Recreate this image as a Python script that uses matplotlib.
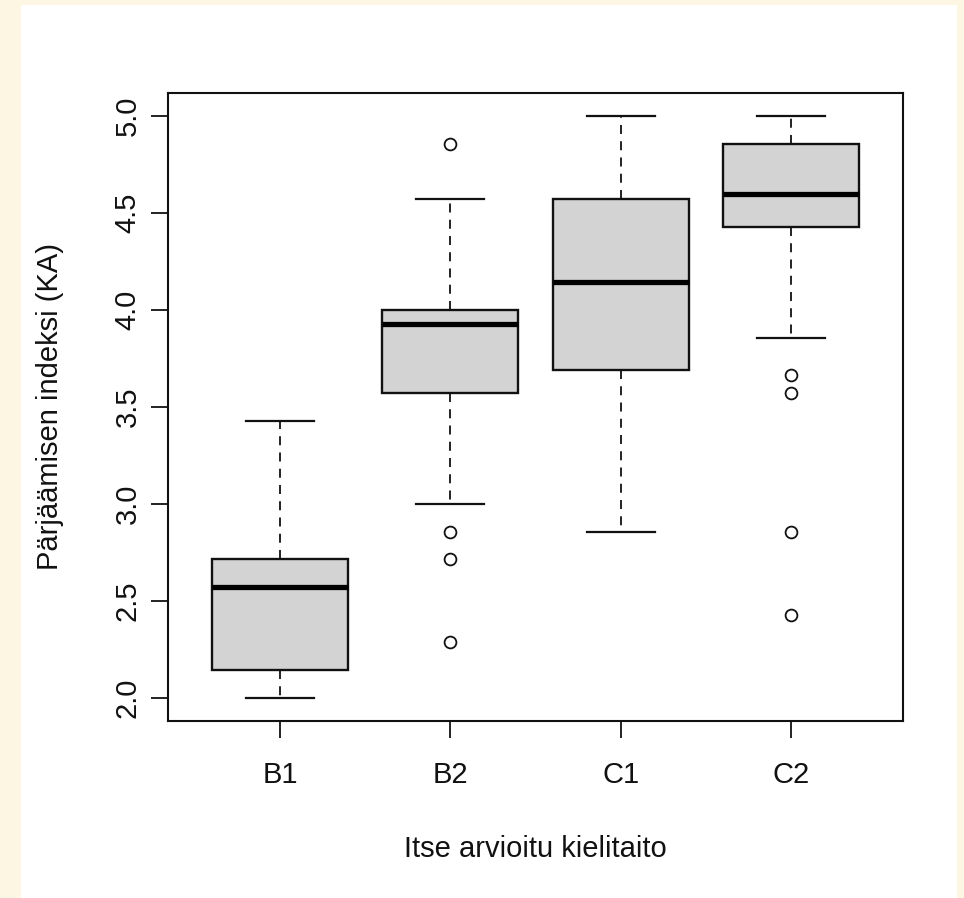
import matplotlib.pyplot as plt
from matplotlib.patches import Rectangle

# box statistics (R style boxplot)
groups = ['B1', 'B2', 'C1', 'C2']
whislo = [2.0, 3.0, 2.857, 3.857]
q1 = [2.143, 3.571, 3.69, 4.429]
med = [2.571, 3.929, 4.143, 4.6]
q3 = [2.714, 4.0, 4.571, 4.857]
whishi = [3.429, 4.571, 5.0, 5.0]
fliers = [[], [4.857, 2.857, 2.714, 2.286], [], [3.667, 3.571, 2.857, 2.429]]

y_ticks = [2.0, 2.5, 3.0, 3.5, 4.0, 4.5, 5.0]

plt.rcParams['font.family'] = ['Liberation Sans', 'DejaVu Sans']
FS = 21

W, H = 964, 898
fig = plt.figure(figsize=(W / 100, H / 100), dpi=100, facecolor='#fdf6e3')
# white drawing region inside the cream border
fig.patches.append(Rectangle((21 / W, 0), 936 / W, (H - 5) / H,
                             transform=fig.transFigure, facecolor='white',
                             edgecolor='none', zorder=-10))

ax = fig.add_axes([168 / W, (H - 721) / H, (903 - 168) / W, (721 - 93) / H])
ax.set_facecolor('white')

stats = []
for i, g in enumerate(groups):
    stats.append({'label': g, 'whislo': whislo[i], 'q1': q1[i], 'med': med[i],
                  'q3': q3[i], 'whishi': whishi[i], 'fliers': fliers[i]})

ax.bxp(stats, positions=range(1, len(groups) + 1), widths=0.8,
       patch_artist=True, showfliers=True,
       boxprops=dict(facecolor='#d3d3d3', edgecolor='#111111', linewidth=1.7),
       medianprops=dict(color='black', linewidth=3.8, solid_capstyle='butt'),
       whiskerprops=dict(color='#111111', linewidth=1.3, linestyle=(0, (5, 4))),
       capprops=dict(color='#111111', linewidth=1.6),
       capwidths=0.4,
       flierprops=dict(marker='o', markersize=8.5, markerfacecolor='none',
                       markeredgecolor='#111111', markeredgewidth=1.3))

n = len(groups)
ax.set_xlim(0.5 - 0.04 * n, n + 0.5 + 0.04 * n)
ax.set_ylim(2.0 - 0.04 * 3, 5.0 + 0.04 * 3)

ax.set_yticks(y_ticks)
ax.set_yticklabels([f'{v:.1f}' for v in y_ticks], rotation=90, va='center')
ax.set_xticks(range(1, n + 1))
ax.set_xticklabels(groups)

ax.tick_params(axis='both', length=12, width=1.3, labelsize=FS, color='#111111',
               labelcolor='#111111')
ax.tick_params(axis='x', pad=17)
ax.tick_params(axis='y', pad=7)
for s in ax.spines.values():
    s.set_linewidth(1.5)
    s.set_color('#111111')

ax.set_xlabel('Itse arvioitu kielitaito', fontsize=FS, labelpad=33, color='#111111')
ax.set_ylabel('Pärjäämisen indeksi (KA)', fontsize=FS, labelpad=36, color='#111111')

fig.savefig('out.png', dpi=100, facecolor=fig.get_facecolor())
